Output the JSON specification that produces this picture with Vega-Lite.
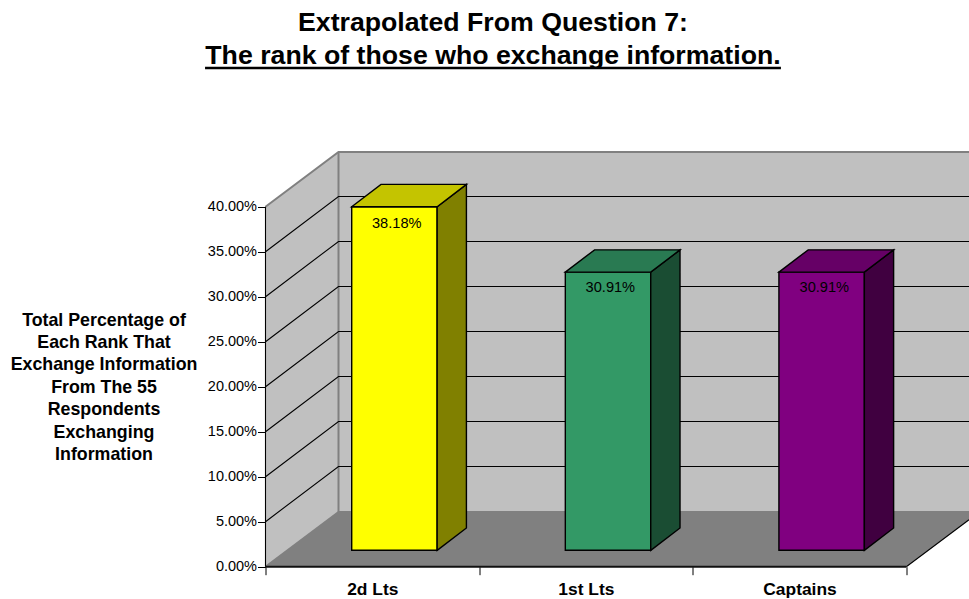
{"$schema":"https://vega.github.io/schema/vega-lite/v6.json","width":703.5,"height":414.7,"autosize":{"type":"none"},"padding":{"left":265.5,"top":152,"right":0,"bottom":32.3},"background":"white",
"encoding":{"x":{"field":"x","type":"quantitative","scale":{"domain":[0,3.2935],"nice":false,"zero":false},"axis":{"title":null,"values":[0,0.5,1,1.5,2,2.5,3],"grid":false,"domain":false,"tickSize":8,"tickColor":"black","tickWidth":1,"tickOpacity":{"condition":{"test":"datum.value % 1 != 0","value":0},"value":1},"labelExpr":"datum.value==0.5?'2d Lts':datum.value==1.5?'1st Lts':datum.value==2.5?'Captains':''","labelFont":"Liberation Sans","labelFontWeight":"bold","labelFontSize":17.4,"labelColor":"black","labelPadding":6,"labelOverlap":false,"labelBound":false,"labelFlush":false}},
"y":{"field":"y","type":"quantitative","scale":{"domain":[0,46.08],"nice":false,"zero":false},"axis":{"values":[0,5,10,15,20,25,30,35,40],"grid":false,"domain":false,"tickSize":8,"tickColor":"black","tickWidth":1,"labelExpr":"format(datum.value,'.2f')+'%'","labelFont":"Liberation Sans","labelFontSize":14.5,"labelColor":"black","labelPadding":1,"title":["Total Percentage of","Each Rank That","Exchange Information","From The 55","Respondents","Exchanging","Information"],"titleFont":"Liberation Sans","titleFontSize":17.8,"titleFontWeight":"bold","titleColor":"black","titleAngle":0,"titleAlign":"center","titleBaseline":"middle","titleLineHeight":22.4,"titleX":-162,"titleY":168}}},
"layer":[
{"data":{"values":[
{"part":"back","x":0.3418,"y":6.08,"y2":46.08},{"part":"back","x":3.2935,"y":6.08,"y2":46.08},
{"part":"left","x":0,"y":0,"y2":40},{"part":"left","x":0.3418,"y":6.08,"y2":46.08},
{"part":"floor","x":0,"y":0,"y2":0},{"part":"floor","x":0.3418,"y":0,"y2":6.08},{"part":"floor","x":3,"y":0,"y2":6.08},{"part":"floor","x":3.2935,"y":5.22,"y2":6.08}]},
"mark":{"type":"area","strokeWidth":0},"encoding":{"y2":{"field":"y2"},"color":{"field":"part","type":"nominal","legend":null,"scale":{"domain":["back","left","floor"],"range":["#C0C0C0","#C0C0C0","#808080"]}}}},
{"data":{"values":[
{"s":"a","x":0,"y":0},{"s":"a","x":0.3418,"y":6.08},
{"s":"b","x":0,"y":40},{"s":"b","x":0.3418,"y":46.08},{"s":"b","x":3.2935,"y":46.08},
{"s":"c","x":0.3418,"y":6.08},{"s":"c","x":0.3418,"y":46.08},
{"s":"d","x":0.3418,"y":6.08},{"s":"d","x":3.2935,"y":6.08}]},
"mark":{"type":"line","stroke":"#808080","strokeWidth":2},"encoding":{"detail":{"field":"s"}}},
{"data":{"values":[
{"s":"g5","x":0,"y":5},{"s":"g5","x":0.3418,"y":11.14},{"s":"g5","x":3.2935,"y":11.14},
{"s":"g10","x":0,"y":10},{"s":"g10","x":0.3418,"y":16.14},{"s":"g10","x":3.2935,"y":16.14},
{"s":"g15","x":0,"y":15},{"s":"g15","x":0.3418,"y":21.14},{"s":"g15","x":3.2935,"y":21.14},
{"s":"g20","x":0,"y":20},{"s":"g20","x":0.3418,"y":26.14},{"s":"g20","x":3.2935,"y":26.14},
{"s":"g25","x":0,"y":25},{"s":"g25","x":0.3418,"y":31.14},{"s":"g25","x":3.2935,"y":31.14},
{"s":"g30","x":0,"y":30},{"s":"g30","x":0.3418,"y":36.14},{"s":"g30","x":3.2935,"y":36.14},
{"s":"g35","x":0,"y":35},{"s":"g35","x":0.3418,"y":41.14},{"s":"g35","x":3.2935,"y":41.14},
{"s":"ax","x":0,"y":0},{"s":"ax","x":0,"y":40},
{"s":"fr","x":3,"y":0},{"s":"fr","x":3.2935,"y":5.22}]},
"mark":{"type":"line","stroke":"black","strokeWidth":1.1},"encoding":{"detail":{"field":"s"}}},
{"data":{"values":[
{"s":"bt","x":0,"y":0},{"s":"bt","x":3,"y":0}]},
"mark":{"type":"line","stroke":"#111111","strokeWidth":2},"encoding":{"detail":{"field":"s"}}},
{"data":{"values":[
{"s":"ul","x":-0.283,"y":55.41},{"s":"ul","x":2.413,"y":55.41}]},
"mark":{"type":"line","stroke":"black","strokeWidth":2.6},"encoding":{"detail":{"field":"s"}}},
{"data":{"values":[
{"part":"y-front","x":0.4036,"y":1.82,"y2":40},{"part":"y-front","x":0.8036,"y":1.82,"y2":40},
{"part":"y-side","x":0.8036,"y":1.82,"y2":40},{"part":"y-side","x":0.9406,"y":4.3,"y2":42.48},
{"part":"y-top","x":0.4036,"y":40,"y2":40},{"part":"y-top","x":0.5406,"y":40,"y2":42.48},{"part":"y-top","x":0.8036,"y":40,"y2":42.48},{"part":"y-top","x":0.9406,"y":42.48,"y2":42.48},
{"part":"g-front","x":1.4036,"y":1.82,"y2":32.73},{"part":"g-front","x":1.8036,"y":1.82,"y2":32.73},
{"part":"g-side","x":1.8036,"y":1.82,"y2":32.73},{"part":"g-side","x":1.9406,"y":4.3,"y2":35.21},
{"part":"g-top","x":1.4036,"y":32.73,"y2":32.73},{"part":"g-top","x":1.5406,"y":32.73,"y2":35.21},{"part":"g-top","x":1.8036,"y":32.73,"y2":35.21},{"part":"g-top","x":1.9406,"y":35.21,"y2":35.21},
{"part":"p-front","x":2.4036,"y":1.82,"y2":32.73},{"part":"p-front","x":2.8036,"y":1.82,"y2":32.73},
{"part":"p-side","x":2.8036,"y":1.82,"y2":32.73},{"part":"p-side","x":2.9406,"y":4.3,"y2":35.21},
{"part":"p-top","x":2.4036,"y":32.73,"y2":32.73},{"part":"p-top","x":2.5406,"y":32.73,"y2":35.21},{"part":"p-top","x":2.8036,"y":32.73,"y2":35.21},{"part":"p-top","x":2.9406,"y":35.21,"y2":35.21}]},
"mark":{"type":"area","stroke":"black","strokeWidth":1.4},"encoding":{"y2":{"field":"y2"},"color":{"field":"part","type":"nominal","legend":null,"scale":{"domain":["y-front","y-side","y-top","g-front","g-side","g-top","p-front","p-side","p-top"],"range":["#FFFF00","#808000","#C4C400","#339966","#1A4D33","#297A52","#800080","#400040","#660066"]}}}},
{"data":{"values":[{"x":0.6144,"y":38.08,"label":"38.18%"},{"x":1.6144,"y":30.93,"label":"30.91%"},{"x":2.616,"y":30.93,"label":"30.91%"}]},
"mark":{"type":"text","font":"Liberation Sans","fontSize":14.6,"color":"black","align":"center","baseline":"middle"},"encoding":{"text":{"field":"label"}}},
{"data":{"values":[{"x":1.065,"y":59.56,"label":"Extrapolated From Question 7:"},{"x":1.065,"y":55.86,"label":"The rank of those who exchange information."}]},
"mark":{"type":"text","font":"Liberation Sans","fontSize":26.7,"fontWeight":"bold","color":"black","align":"center","baseline":"alphabetic"},"encoding":{"text":{"field":"label"}}}
],
"resolve":{"scale":{"color":"independent"}},
"config":{"view":{"stroke":null}}}
